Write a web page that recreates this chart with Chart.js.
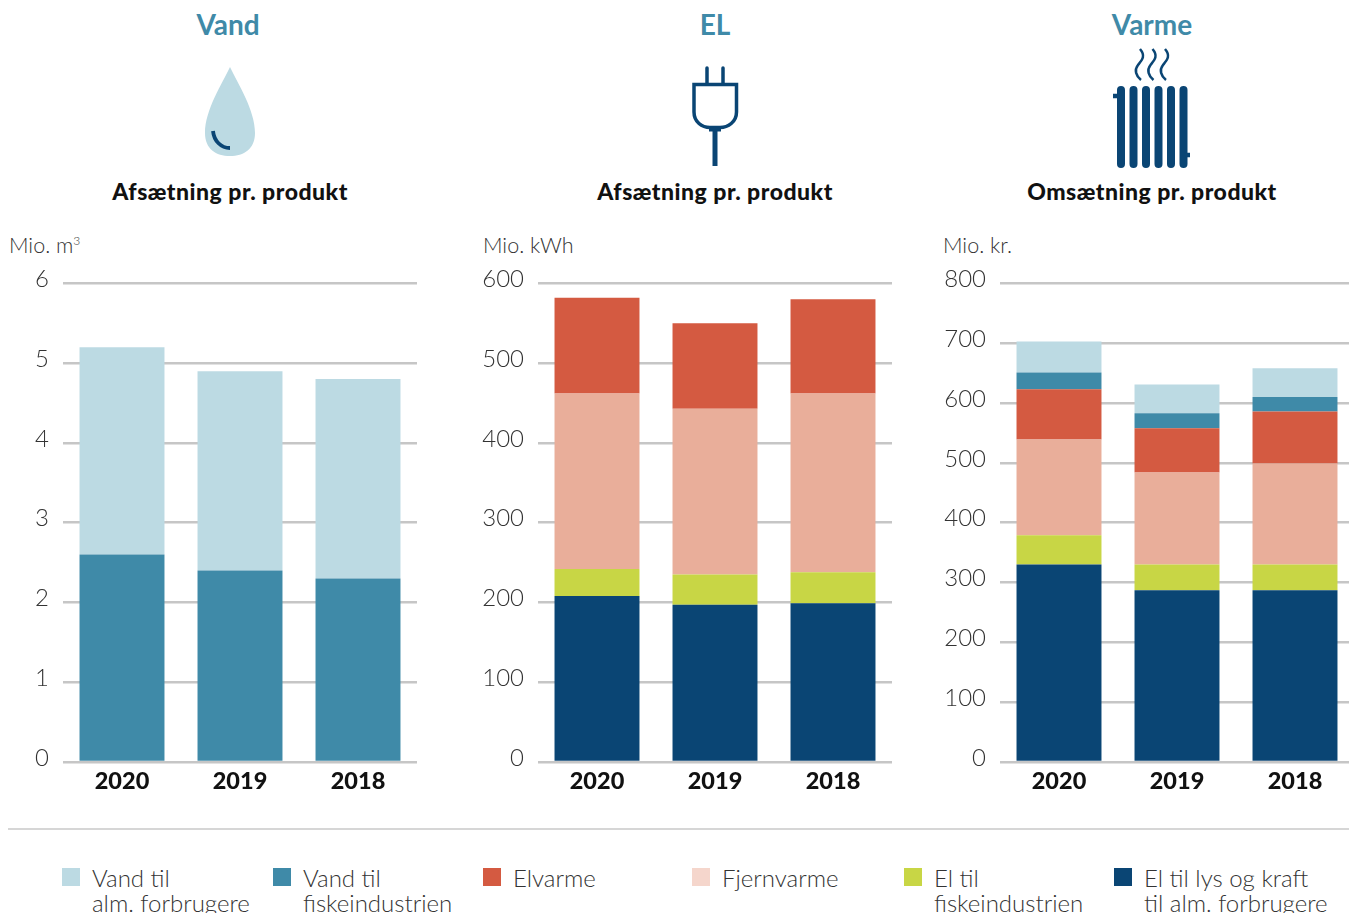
<!DOCTYPE html>
<html lang="da">
<head>
<meta charset="UTF-8">
<title>Afsætning pr. produkt</title>
<style>
  html, body { margin: 0; height: 100%; overflow: hidden; background: #fff; font-family: Lato, sans-serif; }
  #page { position: relative; width: 1349px; height: 913px; overflow: hidden; }
  #page canvas { position: absolute; }
  .head { position: absolute; transform: translateX(-50%); white-space: nowrap; }
  .head.big { top: 8px; font-size: 28px; font-weight: 700; color: #3f8aa8; line-height: 32px; }
  .head.sub { top: 178px; font-size: 23px; font-weight: 900; letter-spacing: 0.5px; color: #111; line-height: 27px; }
  .unit { position: absolute; top: 233px; font-size: 21.5px; font-weight: 300; color: #333; line-height: 25px; white-space: nowrap; }
  .unit sup { font-size: 12px; line-height: 0; }
  #rule { position: absolute; left: 8px; top: 828px; width: 1341px; height: 1.5px; background: #d6d6d6; }
  .key { position: absolute; top: 868px; width: 18px; height: 18px; }
  .keytext { position: absolute; top: 865px; font-size: 24px; font-weight: 300; color: #333; line-height: 25px; white-space: pre; }
  svg { position: absolute; left: 0; top: 0; }
</style>
</head>
<body>
<div id="page">
  <svg width="1349" height="200" fill="none">
    <path d="M230 67 C222 84 205 110 205 133 C205 149 216 156 230 156 C244 156 255 149 255 133 C255 110 238 84 230 67 Z" fill="#bcdae3"/>
    <path d="M213 131 C214 141 221 148 230 148" stroke="#0a4574" stroke-width="3.8"/>
    <g stroke="#0a4574">
      <path d="M707 68 V84 M723 68 V84" stroke-width="3.5" stroke-linecap="round"/>
      <path d="M694 84.5 H736.5 V112 C736.5 122 728 127.5 720 127.5 H710 C702 127.5 694 122 694 112 Z" stroke-width="3.5"/>
      <path d="M715 128 V166" stroke-width="5"/>
      <path d="M709 129.5 H721" stroke-width="4"/>
      <path d="M1121 90 V164 M1133.500 90 V164 M1146 90 V164 M1158.500 90 V164 M1171 90 V164 M1183.500 90 V164" stroke-width="8" stroke-linecap="round"/>
      <path d="M1113 96 H1118 M1184 155 H1190" stroke-width="4.500"/>
      <path d="M1140 49 C1146 56 1142 60 1138 65 C1134 70 1136 76 1141 80 M1152.500 49 C1158.500 56 1154.500 60 1150.500 65 C1146.500 70 1148.500 76 1153.500 80 M1165 49 C1171 56 1167 60 1163 65 C1159 70 1161 76 1166 80" stroke-width="2.500"/>
    </g>
  </svg>
  <div class="head big" style="left:228px">Vand</div>
  <div class="head big" style="left:715px">EL</div>
  <div class="head big" style="left:1152px">Varme</div>
  <div class="head sub" style="left:230px">Afsætning pr. produkt</div>
  <div class="head sub" style="left:715px">Afsætning pr. produkt</div>
  <div class="head sub" style="left:1152px">Omsætning pr. produkt</div>
  <div class="unit" style="left:9px">Mio. m<sup>3</sup></div>
  <div class="unit" style="left:483px">Mio. kWh</div>
  <div class="unit" style="left:943px">Mio. kr.</div>
  <canvas id="vand"></canvas>
  <canvas id="el"></canvas>
  <canvas id="varme"></canvas>
  <div id="rule"></div>
  <div id="legend"></div>
</div>

<script src="https://cdn.jsdelivr.net/npm/chart.js"></script>
<script>
const years = ['2020', '2019', '2018'];

// Vand, mio. m3
const vandFisk = [2.6, 2.4, 2.3];
const vandAlm = [2.6, 2.5, 2.5];

// EL, mio. kWh
const elLys = [208, 197, 199];
const elFisk = [34, 38, 39];
const elFjern = [220, 208, 224];
const elVarme = [120, 107, 118];

// Varme, mio. kr.
const krLys = [330, 287, 287];
const krFisk = [49, 43, 43];
const krFjern = [160, 154, 169];
const krElvarme = [84, 74, 87];
const krVandFisk = [28, 25, 24];
const krVandAlm = [52, 48, 48];

const legendLabels = ['Vand til\nalm. forbrugere', 'Vand til\nfiskeindustrien', 'Elvarme', 'Fjernvarme', 'El til\nfiskeindustrien', 'El til lys og kraft\ntil alm. forbrugere'];
const legendColors = ['#bcdae3', '#3f8aa8', '#d45a41', '#f5d6cc', '#c8d645', '#0a4574'];
const legendLefts = [62, 273, 483, 692, 904, 1114];

const NAVY = '#0a4574', LIME = '#c8d645', SALMON = '#e9ae9a', RED = '#d45a41', TEAL = '#3f8aa8', LIGHT = '#bcdae3';

function makeChart(id, plotLeft, yWidth, yMax, step, series) {
    const canvas = document.getElementById(id);
    const plotWidth = 354;
    canvas.width = yWidth + plotWidth + 2;
    canvas.height = 555;
    canvas.style.left = (plotLeft - yWidth) + 'px';
    canvas.style.top = '255px';

    new Chart(canvas, {
        type: 'bar',
        data: {
            labels: years,
            datasets: series.map(s => ({
                data: s[0],
                backgroundColor: s[1],
                barPercentage: 0.72,
                categoryPercentage: 1,
                borderWidth: 0
            }))
        },
        options: {
            responsive: false,
            animation: false,
            layout: { padding: { top: 3, right: 2, left: 0, bottom: 0 } },
            plugins: { legend: { display: false }, tooltip: { enabled: false } },
            scales: {
                x: {
                    stacked: true,
                    grid: { display: false },
                    border: { display: false },
                    ticks: { color: '#111', font: { family: 'Lato', size: 23.5, weight: '900' }, padding: -3, maxRotation: 0 },
                    afterFit: axis => { axis.height = 48; }
                },
                y: {
                    stacked: true,
                    min: 0,
                    max: yMax,
                    grid: { color: '#c6c6c6', lineWidth: 2.5, drawTicks: false },
                    border: { display: false },
                    ticks: { stepSize: step, color: '#333', padding: 14, labelOffset: -4, font: { family: 'Lato', size: 24, weight: '300' } },
                    afterFit: axis => { axis.width = yWidth; }
                }
            }
        }
    });
}

makeChart('vand', 63, 50, 6, 1, [[vandFisk, TEAL], [vandAlm, LIGHT]]);
makeChart('el', 538, 60, 600, 100, [[elLys, NAVY], [elFisk, LIME], [elFjern, SALMON], [elVarme, RED]]);
makeChart('varme', 1000, 60, 800, 100, [[krLys, NAVY], [krFisk, LIME], [krFjern, SALMON], [krElvarme, RED], [krVandFisk, TEAL], [krVandAlm, LIGHT]]);

const legend = document.getElementById('legend');
legendLabels.forEach((label, i) => {
    const key = document.createElement('div');
    key.className = 'key';
    key.style.left = legendLefts[i] + 'px';
    key.style.background = legendColors[i];
    legend.appendChild(key);
    const text = document.createElement('div');
    text.className = 'keytext';
    text.style.left = (legendLefts[i] + 30) + 'px';
    text.textContent = label;
    legend.appendChild(text);
});
</script>
</body>
</html>
